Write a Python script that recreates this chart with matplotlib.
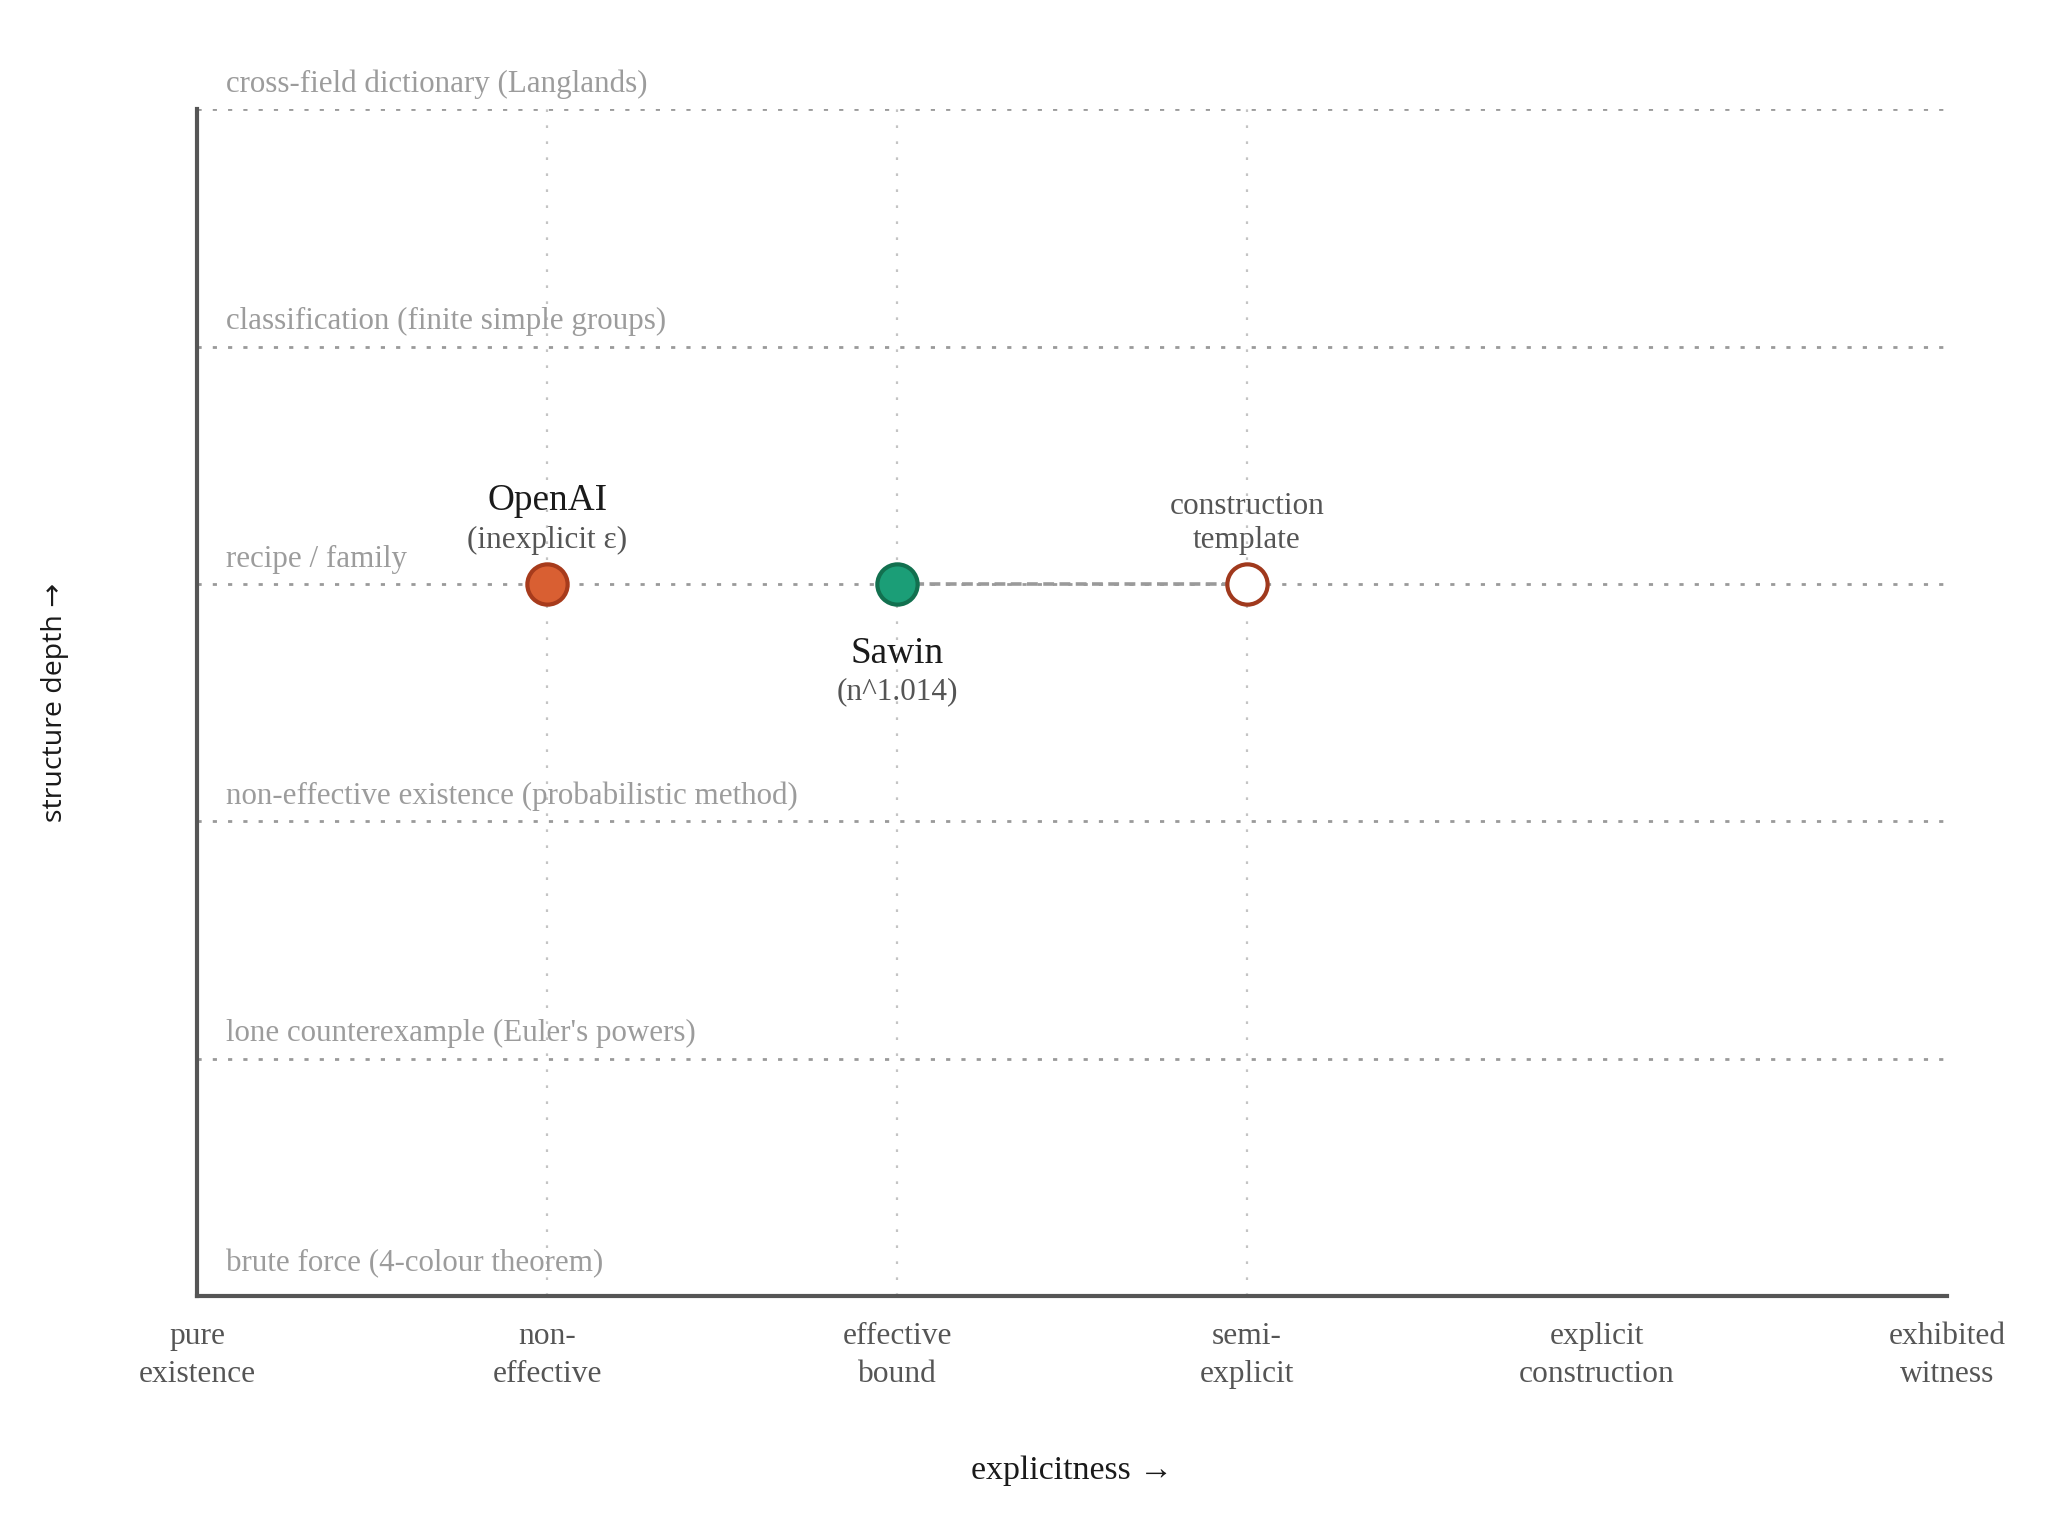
import matplotlib
matplotlib.use("Agg")
import matplotlib.pyplot as plt

# explicitness levels (x axis)
x_labels = ["pure\nexistence", "non-\neffective", "effective\nbound",
            "semi-\nexplicit", "explicit\nconstruction", "exhibited\nwitness"]
# structure depth levels (y axis), bottom to top
y_labels = ["brute force (4-colour theorem)",
            "lone counterexample (Euler's powers)",
            "non-effective existence (probabilistic method)",
            "recipe / family",
            "classification (finite simple groups)",
            "cross-field dictionary (Langlands)"]

# points
openai_xy = (1, 3)
sawin_xy = (2, 3)
template_xy = (3, 3)

SERIF = ["Liberation Serif", "DejaVu Serif"]
plt.rcParams["font.family"] = SERIF

fig = plt.figure(figsize=(20.48, 15.15), dpi=100)
ax = fig.add_axes([0.0962, 0.1445, 0.8545, 0.7834])
ax.set_xlim(0, 5)
ax.set_ylim(0, 5)

# grid lines
for yi in range(1, len(y_labels)):
    ax.axhline(yi, color="#9a9a9a", lw=2.0, ls=(0, (1.5, 4)), zorder=1)
for xi in (1, 2, 3):
    ax.axvline(xi, color="#c4c4c4", lw=1.6, ls=(0, (1.2, 6)), zorder=1)

# row labels
for yi, lab in enumerate(y_labels):
    off = 0.135 if yi == 0 else 0.105
    ax.text(0.082, yi + off, lab, fontsize=22.3, color="#9c9c9c",
            ha="left", va="center", zorder=2)

# dashed link Sawin -> template
ax.plot([sawin_xy[0], template_xy[0]], [sawin_xy[1], template_xy[1]],
        color="#9a9a9a", lw=2.6, ls=(0, (3, 1.5)), zorder=3)

ax.plot(*openai_xy, "o", ms=29, mfc="#d95f32", mec="#a73b1c", mew=3, zorder=5)
ax.plot(*sawin_xy, "o", ms=29, mfc="#1b9e77", mec="#12704f", mew=3, zorder=5)
ax.plot(*template_xy, "o", ms=29, mfc="white", mec="#a0391d", mew=3, zorder=5)

ax.text(openai_xy[0], openai_xy[1] + 0.35, "OpenAI", fontsize=26.8, color="#1a1a1a",
        ha="center", va="center", zorder=6)
ax.text(openai_xy[0], openai_xy[1] + 0.185, "(inexplicit ε)", fontsize=22.5,
        color="#555555", ha="center", va="center", zorder=6)
ax.text(sawin_xy[0], sawin_xy[1] - 0.296, "Sawin", fontsize=26.8, color="#1a1a1a",
        ha="center", va="center", zorder=6)
ax.text(sawin_xy[0], sawin_xy[1] - 0.455, "(n^1.014)", fontsize=22.5,
        color="#555555", ha="center", va="center", zorder=6)
ax.text(template_xy[0], template_xy[1] + 0.255, "construction\ntemplate", fontsize=22.5,
        color="#555555", ha="center", va="center", linespacing=1.25, zorder=6)

ax.set_xticks(range(len(x_labels)))
ax.set_xticklabels(x_labels, fontsize=22.7, color="#555555", linespacing=1.38)
ax.tick_params(axis="x", length=0, pad=19)
ax.set_yticks([])

for s in ("top", "right"):
    ax.spines[s].set_visible(False)
for s in ("left", "bottom"):
    ax.spines[s].set_color("#555555")
    ax.spines[s].set_linewidth(3)

ax.set_xlabel("explicitness →", fontsize=24.4, color="#1a1a1a", labelpad=48)
ax.set_ylabel("structure depth →", fontsize=20.5, color="#1a1a1a",
              family=["Open Sans", "DejaVu Sans"], labelpad=92)

fig.savefig("out.png", dpi=100, facecolor="white")
